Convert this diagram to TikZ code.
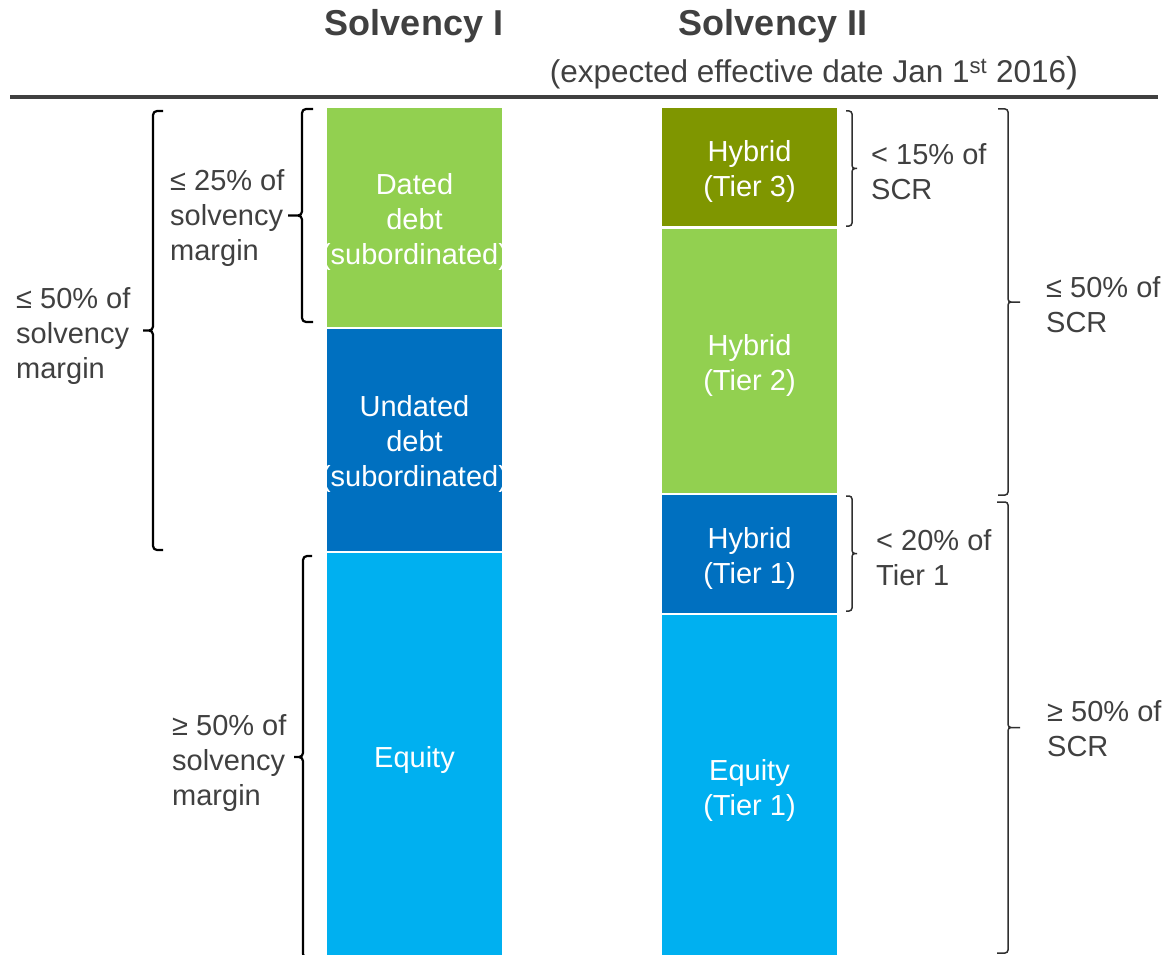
\documentclass[tikz,border=0pt]{standalone}
\usepackage{fontspec}
\setmainfont{Liberation Sans}
\definecolor{capgreen}{HTML}{92D050}
\definecolor{capolive}{HTML}{7F9600}
\definecolor{capblue}{HTML}{0070C0}
\definecolor{capsky}{HTML}{00B0F0}
\definecolor{inkgray}{HTML}{404040}
\definecolor{bracegray}{HTML}{303030}

% brace: style, x of spine, top, bottom, hook dx, tip dx
\newcommand{\capbrace}[6]{%
  \draw[#1] ({#2+(#5)},#3) -- (#2,#3) -- (#2,{(#3+#4)/2}) -- ({#2+(#6)},{(#3+#4)/2})
            ({#2+(#5)},#4) -- (#2,#4) -- (#2,{(#3+#4)/2}) -- ({#2+(#6)},{(#3+#4)/2});}

\begin{document}
\begin{tikzpicture}[x=1pt,y=-1pt,
  block/.style={inner sep=0pt, outer sep=0pt, minimum width=175pt, draw=none},
  blocktext/.style={inner sep=0pt, text=white, align=center,
    font=\fontsize{29}{35}\selectfont},
  lbl/.style={inner sep=0pt, anchor=west, text=inkgray, align=left,
    font=\fontsize{29}{35}\selectfont},
  title/.style={inner sep=0pt, text=inkgray, font=\bfseries\fontsize{36}{40}\selectfont},
  bracethick/.style={draw=black, line width=2.2pt, rounded corners=4pt},
  bracethin/.style={draw=bracegray, line width=1.5pt, rounded corners=3pt},
]
\useasboundingbox (0,0) rectangle (1165,955);
\clip (0,0) rectangle (1165,955);

% headings
\node[title] (t1) at (414,26) {Solvency I};
\node[title] (t2) at (773,26) {Solvency II};
\node[inner sep=0pt, text=inkgray, font=\fontsize{31.5}{34}\selectfont] (sub) at (814,73)
  {(expected effective date Jan 1\textsuperscript{st} 2016{\fontsize{36}{36}\selectfont)}};
\draw[inkgray, line width=3.5pt] (10,97) coordinate (rl) -- (1158,97) coordinate (rr);

% Solvency I stack
\node[block, fill=capgreen, minimum height=219pt] (dated) at (414.5,217.5) {};
\node[blocktext] at ([yshift=-4pt]dated.center) {Dated\\debt\\(subordinated)};
\node[block, fill=capblue, minimum height=222pt] (undated) at (414.5,440) {};
\node[blocktext] at ([yshift=-4pt]undated.center) {Undated\\debt\\(subordinated)};
\node[block, fill=capsky, minimum height=407pt] (equity) at (414.5,756.5) {};
\node[blocktext] at ([yshift=-3pt]equity.center) {Equity};

% Solvency II stack
\node[block, fill=capolive, minimum height=118pt] (tier3) at (749.5,167) {};
\node[blocktext] at ([yshift=-4pt]tier3.center) {Hybrid\\(Tier 3)};
\node[block, fill=capgreen, minimum height=264pt] (tier2) at (749.5,361) {};
\node[blocktext] at ([yshift=-4pt]tier2.center) {Hybrid\\(Tier 2)};
\node[block, fill=capblue, minimum height=118pt] (tier1h) at (749.5,554) {};
\node[blocktext] at ([yshift=-4pt]tier1h.center) {Hybrid\\(Tier 1)};
\node[block, fill=capsky, minimum height=345pt] (tier1e) at (749.5,787.5) {};
\node[blocktext] at ([yshift=-3pt]tier1e.center) {Equity\\(Tier 1)};

% Solvency I limits
\capbrace{bracethick}{153}{111}{550}{10}{-10}
\node[lbl] (l50) at (16,336) {≤ 50\% of\\solvency\\margin};
\capbrace{bracethick}{302}{109}{322}{11}{-14}
\node[lbl] (l25) at (170,218) {≤ 25\% of\\solvency\\margin};
\capbrace{bracethick}{303}{556}{958}{9}{-9}
\node[lbl] (g50) at (172,763) {≥ 50\% of\\solvency\\margin};

% Solvency II limits
\capbrace{bracethin}{852}{111}{226}{-6}{5}
\node[lbl] (s15) at (871,172) {< 15\% of\\SCR};
\capbrace{bracethin}{1008}{109}{495}{-10}{12}
\node[lbl] (s50) at (1046,305) {≤ 50\% of\\SCR};
\capbrace{bracethin}{852}{496}{611}{-6}{5}
\node[lbl] (s20) at (876,558) {< 20\% of\\Tier 1};
\capbrace{bracethin}{1008}{502}{953}{-11}{12}
\node[lbl] (sg50) at (1047,729) {≥ 50\% of\\SCR};
\end{tikzpicture}
\end{document}
